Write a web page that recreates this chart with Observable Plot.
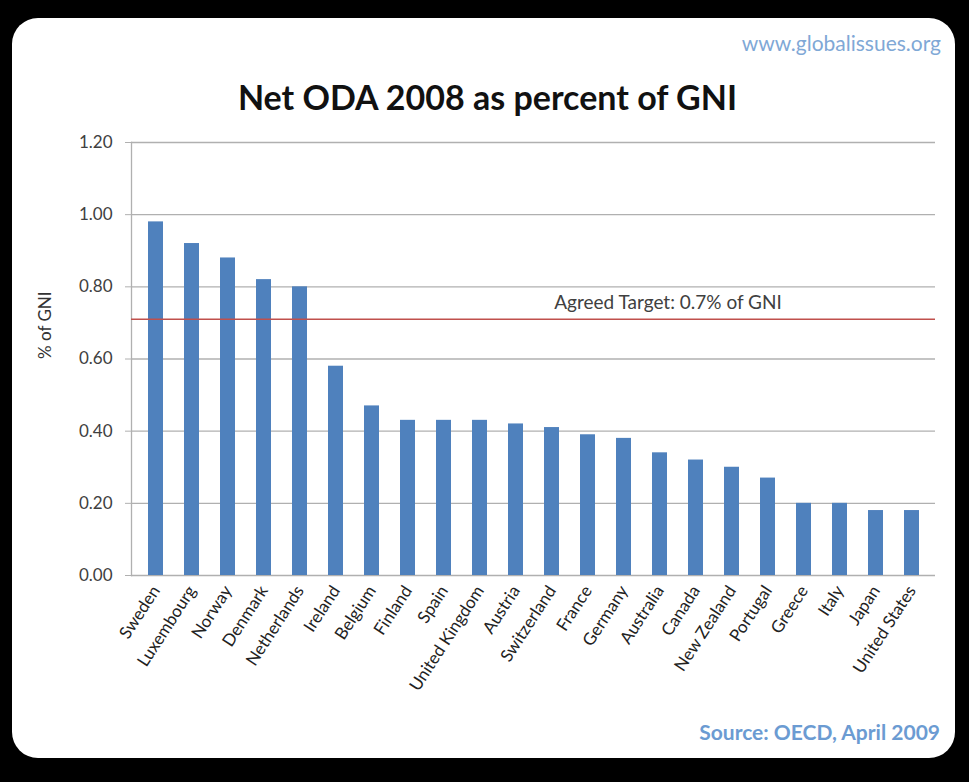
<!DOCTYPE html>
<html>
<head>
<meta charset="utf-8">
<script src="https://cdn.jsdelivr.net/npm/d3@7"></script>
<script src="https://cdn.jsdelivr.net/npm/@observablehq/plot@0.6"></script>
<style>
  html, body { margin: 0; padding: 0; background: #000; width: 969px; height: 782px; overflow: hidden; }
  #card { position: absolute; left: 12px; top: 18px; width: 943px; height: 740px; background: #fff; border-radius: 26px; }
  #chart { position: absolute; left: 0; top: 0; }
  .t { position: absolute; font-family: Lato, "Open Sans", sans-serif; white-space: nowrap; }
  #title { left: 0; width: 975px; top: 76px; text-align: center; font-size: 34px; font-weight: 700; color: #111; }
  #site { right: 28px; top: 30px; font-size: 21px; color: #7fa8d6; }
  #source { right: 29px; top: 719px; font-size: 21px; font-weight: 700; color: #6b9bd2; }
</style>
</head>
<body>
<div id="card"></div>
<div id="chart"></div>
<div class="t" id="site">www.globalissues.org</div>
<div class="t" id="title">Net ODA 2008 as percent of GNI</div>
<div class="t" id="source">Source: OECD, April 2009</div>
<script>
const countries = ["Sweden","Luxembourg","Norway","Denmark","Netherlands","Ireland","Belgium","Finland","Spain","United Kingdom","Austria","Switzerland","France","Germany","Australia","Canada","New Zealand","Portugal","Greece","Italy","Japan","United States"];
const values = [0.98,0.92,0.88,0.82,0.80,0.58,0.47,0.43,0.43,0.43,0.42,0.41,0.39,0.38,0.34,0.32,0.30,0.27,0.20,0.20,0.18,0.18];
const yTicks = [0, 0.2, 0.4, 0.6, 0.8, 1.0, 1.2];
const target = 0.71;
const targetLabel = "Agreed Target: 0.7% of GNI";
const targetLabelAt = "Australia";
const yLabel = "% of GNI";

const data = countries.map((c, i) => ({country: c, value: values[i]}));

const chart = Plot.plot({
  width: 969,
  height: 782,
  marginLeft: 131,
  marginRight: 34,
  marginTop: 142,
  marginBottom: 207,
  style: {background: "transparent", fontFamily: "Lato, 'Open Sans', sans-serif", fontSize: "16px", color: "#333"},
  x: {domain: countries, paddingInner: 0.59, paddingOuter: 0.295, label: null},
  y: {domain: [0, 1.2], label: null},
  marks: [
    Plot.ruleY(yTicks, {stroke: "#b0b0b0", strokeWidth: 1.3}),
    Plot.frame({anchor: "left", stroke: "#b0b0b0", strokeWidth: 1.3}),
    Plot.barY(data, {x: "country", y: "value", fill: "#4f81bd"}),
    Plot.ruleY([target], {stroke: "#c0504d", strokeWidth: 1.5}),
    Plot.text([targetLabel], {x: () => targetLabelAt, y: () => target, text: d => d, dy: -16, dx: 8, fontSize: 19, fill: "#404040"}),
    Plot.axisY({ticks: yTicks, tickFormat: d3.format(".2f"), tickSize: 6, tickPadding: 13, stroke: "#b0b0b0", fill: "#404040", fontSize: 17}),
    Plot.axisX({tickRotate: -57, tickSize: 0, tickPadding: 12, fill: "#222", fontSize: 17}),
    Plot.text([yLabel], {frameAnchor: "left", text: d => d, rotate: -90, dx: -86, fontSize: 17, fill: "#333"})
  ]
});
document.getElementById("chart").appendChild(chart);
</script>
</body>
</html>
